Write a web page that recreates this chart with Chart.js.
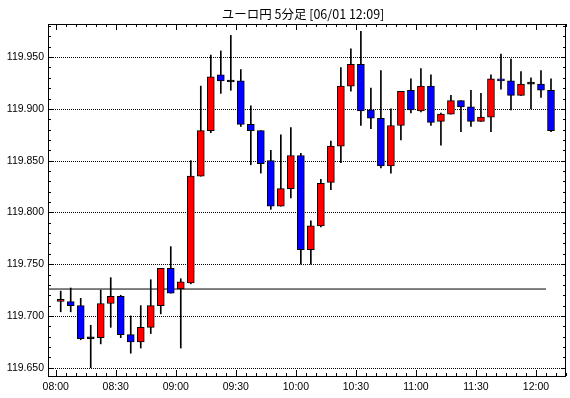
<!DOCTYPE html>
<html>
<head>
<meta charset="utf-8">
<script src="https://cdn.jsdelivr.net/npm/chart.js@4/dist/chart.umd.min.js"></script>
<style>
  html, body { margin: 0; padding: 0; background: #fff; }
  #wrap { width: 570px; height: 398px; }
</style>
</head>
<body>
<div id="wrap"><canvas id="myChart" width="570" height="398"></canvas></div>
<script>
const titleText = 'ユーロ円 5分足 [06/01 12:09]';

const times = ['08:00','08:05','08:10','08:15','08:20','08:25','08:30','08:35','08:40','08:45',
  '08:50','08:55','09:00','09:05','09:10','09:15','09:20','09:25','09:30','09:35',
  '09:40','09:45','09:50','09:55','10:00','10:05','10:10','10:15','10:20','10:25',
  '10:30','10:35','10:40','10:45','10:50','10:55','11:00','11:05','11:10','11:15',
  '11:20','11:25','11:30','11:35','11:40','11:45','11:50','11:55','12:00','12:05'];

const opens = [119.714,119.714,119.710,119.678,119.679,119.712,119.719,119.682,119.675,119.689,
  119.710,119.746,119.726,119.732,119.835,119.879,119.933,119.926,119.927,119.885,
  119.879,119.850,119.806,119.823,119.855,119.764,119.787,119.829,119.864,119.922,
  119.943,119.899,119.891,119.845,119.884,119.918,119.898,119.922,119.888,119.895,
  119.908,119.902,119.888,119.892,119.929,119.927,119.913,119.924,119.924,119.918];
const highs = [119.724,119.727,119.717,119.691,119.725,119.737,119.720,119.700,119.710,119.735,
  119.746,119.767,119.736,119.850,119.922,119.952,119.956,119.971,119.938,119.903,
  119.879,119.860,119.875,119.882,119.857,119.792,119.832,119.869,119.940,119.958,
  119.975,119.920,119.937,119.900,119.917,119.929,119.939,119.933,119.896,119.913,
  119.908,119.918,119.915,119.933,119.953,119.948,119.936,119.930,119.937,119.929];
const lows = [119.704,119.704,119.677,119.650,119.673,119.689,119.679,119.664,119.669,119.683,
  119.702,119.722,119.669,119.731,119.835,119.877,119.915,119.918,119.883,119.846,
  119.838,119.803,119.806,119.814,119.750,119.750,119.786,119.822,119.848,119.917,
  119.884,119.881,119.843,119.838,119.870,119.896,119.897,119.884,119.865,119.895,
  119.878,119.883,119.888,119.878,119.919,119.899,119.913,119.900,119.911,119.878];
const closes = [119.716,119.710,119.678,119.678,119.712,119.719,119.682,119.675,119.689,119.710,
  119.746,119.722,119.733,119.835,119.879,119.931,119.927,119.926,119.885,119.879,
  119.847,119.806,119.823,119.855,119.764,119.787,119.828,119.864,119.922,119.943,
  119.898,119.891,119.845,119.884,119.917,119.899,119.922,119.887,119.895,119.908,
  119.902,119.888,119.892,119.929,119.927,119.913,119.924,119.924,119.918,119.879];

const refLevel = 119.726;
const refLineEnd = '12:05';

const yTicks = [119.650, 119.700, 119.750, 119.800, 119.850, 119.900, 119.950];
const xTickLabels = ['08:00','08:30','09:00','09:30','10:00','10:30','11:00','11:30','12:00'];

// minutes from 08:00; each bar is drawn in the middle of its 5 minute slot
const toMin = s => { const [h, m] = s.split(':').map(Number); return (h - 8) * 60 + m; };
const barMid = 2.5;
const xMin = -3.85, xMax = 255;
const yMin = 119.642, yMax = 119.982;

const candleColor = i => closes[i] > opens[i] ? '#ff0000' : (closes[i] < opens[i] ? '#0000ff' : '#000000');

const bodies = times.map((t, i) => ({ x: toMin(t) + barMid, y: [opens[i], closes[i]] }));
const wicks = times.map((t, i) => ({ x: toMin(t) + barMid, y: [lows[i], highs[i]] }));

const titlePlugin = {
    id: 'titleText',
    afterDraw(chart) {
        const c = chart.ctx;
        c.save();
        c.fillStyle = '#000';
        c.font = '12.5px "Noto Sans CJK JP", sans-serif';
        c.textAlign = 'center';
        c.textBaseline = 'middle';
        c.fillText(titleText, 303, 14);
        c.restore();
    }
};

// dotted horizontal grid, black frame with small inward ticks on all four sides
const framePlugin = {
    id: 'frame',
    beforeDatasetsDraw(chart) {
        const c = chart.ctx, a = chart.chartArea, ys = chart.scales.y;
        c.save();
        c.fillStyle = '#000';
        yTicks.forEach(v => {
            const py = Math.round(ys.getPixelForValue(v));
            for (let px = Math.round(a.left) + 1; px < a.right - 1; px += 2) c.fillRect(px, py, 1, 1);
        });
        c.restore();
    },
    afterDatasetsDraw(chart) {
        const c = chart.ctx, a = chart.chartArea;
        const xs = chart.scales.x, ys = chart.scales.y;
        c.save();
        c.strokeStyle = '#000';
        c.lineWidth = 1;
        c.beginPath();
        for (let m = 0; m <= xMax; m += 5) {
            const px = Math.round(xs.getPixelForValue(m)) + 0.5;
            const len = m % 30 === 0 ? 6 : 3;
            c.moveTo(px, a.bottom); c.lineTo(px, a.bottom - len);
            c.moveTo(px, a.top); c.lineTo(px, a.top + len);
        }
        for (let k = 0; k <= 33; k++) {
            const v = 119.65 + k * 0.01;
            if (v > yMax) break;
            const py = Math.round(ys.getPixelForValue(v)) + 0.5;
            const len = k % 5 === 0 ? 5 : 3;
            c.moveTo(a.left, py); c.lineTo(a.left + len, py);
            c.moveTo(a.right, py); c.lineTo(a.right - len, py);
        }
        c.stroke();
        c.strokeRect(Math.round(a.left) + 0.5, Math.round(a.top) + 0.5,
            Math.round(a.right - a.left) - 1, Math.round(a.bottom - a.top));
        c.restore();
    }
};

const ctx = document.getElementById('myChart').getContext('2d');
const myChart = new Chart(ctx, {
    type: 'bar',
    data: {
        datasets: [{
            label: 'body',
            data: bodies,
            order: 0,
            backgroundColor: ctx => candleColor(ctx.dataIndex),
            borderColor: '#000',
            borderWidth: 1,
            borderSkipped: false,
            barThickness: 7,
            minBarLength: 2,
            grouped: false
        }, {
            label: 'wick',
            data: wicks,
            order: 1,
            backgroundColor: '#000',
            borderWidth: 0,
            barThickness: 1,
            grouped: false
        }, {
            type: 'line',
            label: 'ref',
            data: [{ x: xMin, y: refLevel }, { x: toMin(refLineEnd), y: refLevel }],
            order: 2,
            borderColor: '#000',
            borderWidth: 1,
            pointRadius: 0,
            fill: false
        }]
    },
    options: {
        responsive: false,
        animation: false,
        layout: { padding: { top: 24, right: 4, left: 0, bottom: 0 } },
        plugins: { legend: { display: false }, tooltip: { enabled: false }, title: { display: false } },
        scales: {
            x: {
                type: 'linear',
                min: xMin,
                max: xMax,
                offset: false,
                grid: { display: false, drawTicks: false },
                border: { display: false },
                afterBuildTicks: s => { s.ticks = xTickLabels.map(l => ({ value: toMin(l) })); },
                afterFit: s => { s.height = 22; },
                ticks: {
                    autoSkip: false,
                    maxRotation: 0,
                    padding: 5,
                    color: '#000',
                    font: { family: 'Liberation Sans', size: 10.5 },
                    callback: (v, i) => xTickLabels[i]
                }
            },
            y: {
                min: yMin,
                max: yMax,
                grid: { display: false, drawTicks: false },
                border: { display: false },
                afterBuildTicks: s => { s.ticks = yTicks.map(v => ({ value: v })); },
                afterFit: s => { s.width = 48; },
                ticks: {
                    padding: 4,
                    color: '#000',
                    font: { family: 'Liberation Sans', size: 10.5 },
                    callback: v => v.toFixed(3)
                }
            }
        }
    },
    plugins: [titlePlugin, framePlugin]
});
</script>
</body>
</html>
